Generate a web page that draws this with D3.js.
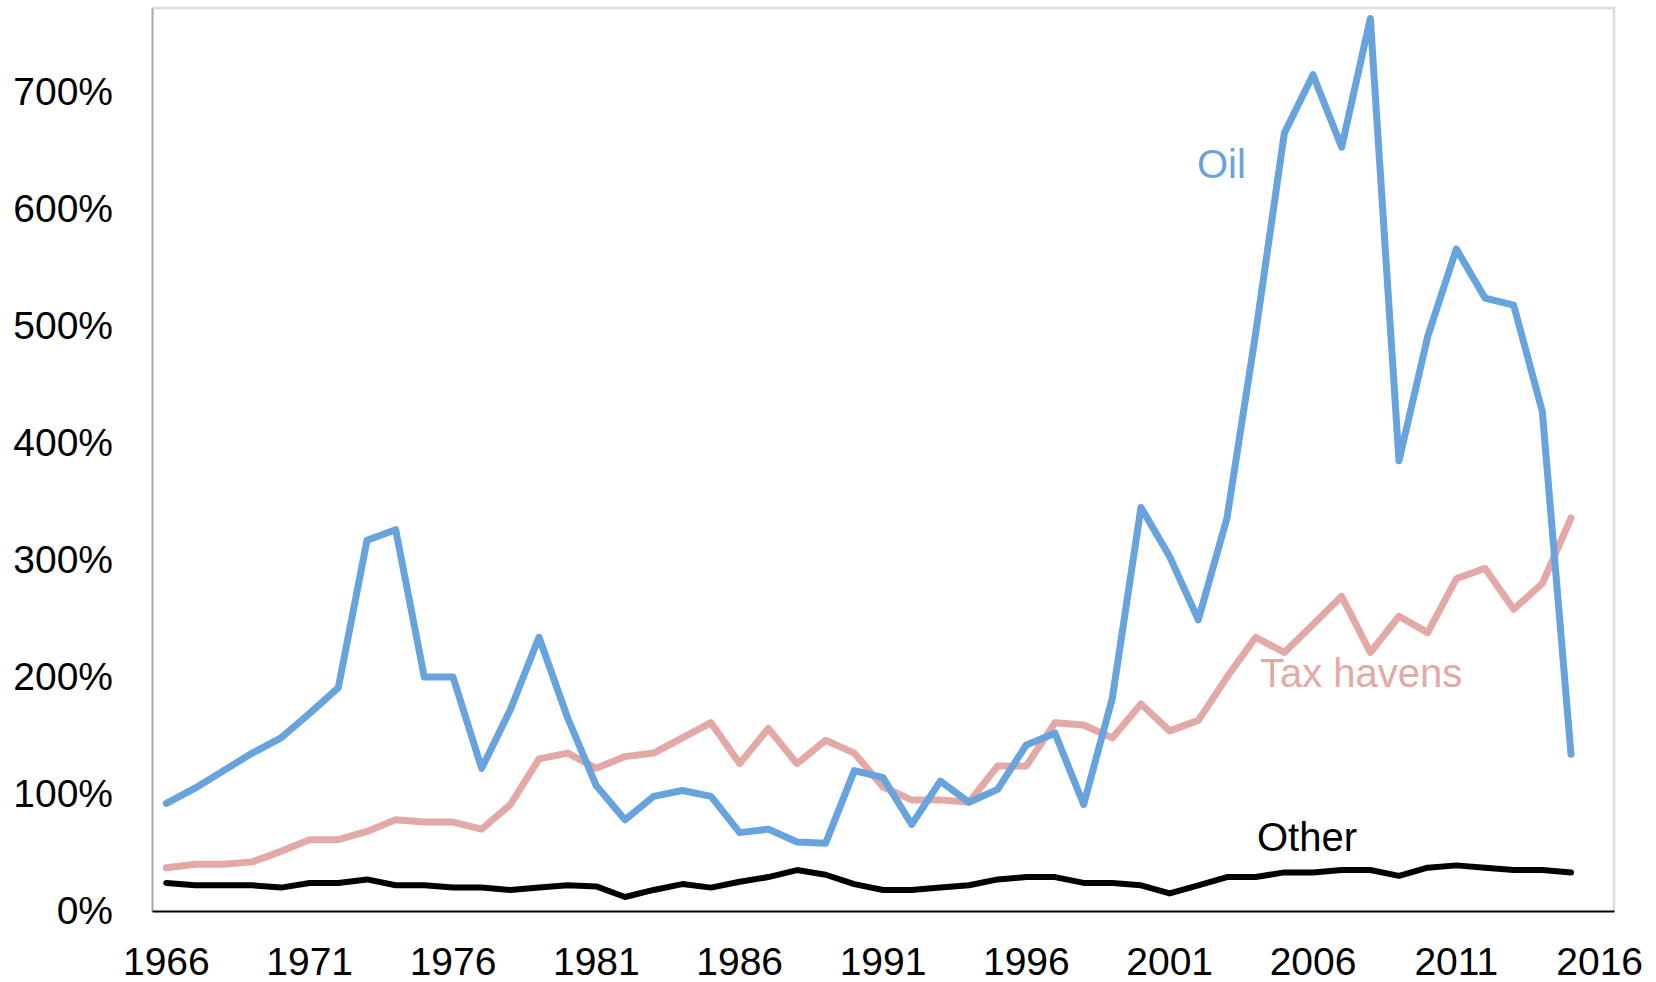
<!DOCTYPE html>
<html>
<head>
<meta charset="utf-8">
<script src="https://cdn.jsdelivr.net/npm/d3@7"></script>
<style>
  body { margin: 0; background: #fff; }
  text { font-family: "Liberation Sans", Arial, sans-serif; }
</style>
</head>
<body>
<div id="chart"></div>
<script>
// years on the category axis (2016 is an empty category)
const years = d3.range(1966, 2017);
const yearTicks = [1966, 1971, 1976, 1981, 1986, 1991, 1996, 2001, 2006, 2011, 2016];
const yTicks = [0, 100, 200, 300, 400, 500, 600, 700];

// values in %, 1966..2015
const oil = [92, 105, 120, 135, 148, 169, 191, 317, 326, 200,
  200, 122, 172, 234, 165, 107, 78, 98, 103, 98,
  67, 70, 59, 58, 120, 114, 74, 111, 93, 104,
  142, 152, 91, 182, 345, 303, 249, 336, 494, 665,
  715, 653, 763, 385, 491, 566, 524, 518, 427, 134];
const taxHavens = [37, 40, 40, 42, 51, 61, 61, 68, 78, 76,
  76, 70, 91, 130, 135, 122, 132, 135, 148, 161,
  126, 156, 126, 146, 135, 106, 95, 95, 93, 124,
  124, 161, 159, 148, 177, 154, 163, 200, 234, 221,
  245, 269, 221, 252, 238, 284, 293, 258, 280, 336];
const other = [24, 22, 22, 22, 20, 24, 24, 27, 22, 22,
  20, 20, 18, 20, 22, 21, 12, 18, 23, 20,
  25, 29, 35, 31, 23, 18, 18, 20, 22, 27,
  29, 29, 24, 24, 22, 15, 22, 29, 29, 33,
  33, 35, 35, 30, 37, 39, 37, 35, 35, 33];

const series = [
  { name: "Tax havens", values: taxHavens, color: "#e2a9a6", width: 7, lx: 1260, ly: 687 },
  { name: "Oil", values: oil, color: "#67a3dd", width: 7, lx: 1197, ly: 178 },
  { name: "Other", values: other, color: "#000000", width: 6, lx: 1257, ly: 851 }
];

const W = 1656, H = 982;
const plotL = 152, plotR = 1614, plotT = 8, plotB = 911;

const svg = d3.select("#chart").append("svg")
  .attr("width", W)
  .attr("height", H);

svg.append("rect").attr("width", W).attr("height", H).attr("fill", "#fff");

const x = d3.scaleBand()
  .domain(years)
  .range([plotL, plotR])
  .padding(0);
const cx = d => x(d) + x.bandwidth() / 2;

const y = d3.scaleLinear()
  .domain([0, 772])
  .range([plotB, plotT]);

// light border on top and right
svg.append("path")
  .attr("d", `M${plotL},${plotT}H${plotR}V${plotB}`)
  .attr("fill", "none")
  .attr("stroke", "#dcdcdc")
  .attr("stroke-width", 2.5);

// y axis
const yAxis = svg.append("g")
  .attr("transform", `translate(${plotL},0)`)
  .call(d3.axisLeft(y).tickValues(yTicks).tickSize(0).tickPadding(39)
    .tickFormat(d => d + "%"));
yAxis.select(".domain").attr("stroke", "#a6a6a6").attr("stroke-width", 2);
yAxis.selectAll("text").attr("font-size", 39).attr("fill", "#000")
  .style("font-family", "'Liberation Sans', Arial, sans-serif");

// x axis
const xAxis = svg.append("g")
  .attr("transform", `translate(0,${plotB})`)
  .call(d3.axisBottom(x).tickValues(yearTicks).tickSize(0).tickPadding(36));
xAxis.select(".domain").attr("stroke", "#000").attr("stroke-width", 2);
xAxis.selectAll("text").attr("font-size", 39).attr("fill", "#000")
  .style("font-family", "'Liberation Sans', Arial, sans-serif");

const line = d3.line()
  .x((d, i) => cx(years[i]))
  .y(d => y(d));

series.forEach(s => {
  svg.append("path")
    .datum(s.values)
    .attr("d", line)
    .attr("fill", "none")
    .attr("stroke", s.color)
    .attr("stroke-width", s.width)
    .attr("stroke-linejoin", "round")
    .attr("stroke-linecap", "round");

  svg.append("text")
    .attr("x", s.lx)
    .attr("y", s.ly)
    .attr("font-size", 40)
    .attr("fill", s.color)
    .text(s.name);
});
</script>
</body>
</html>
